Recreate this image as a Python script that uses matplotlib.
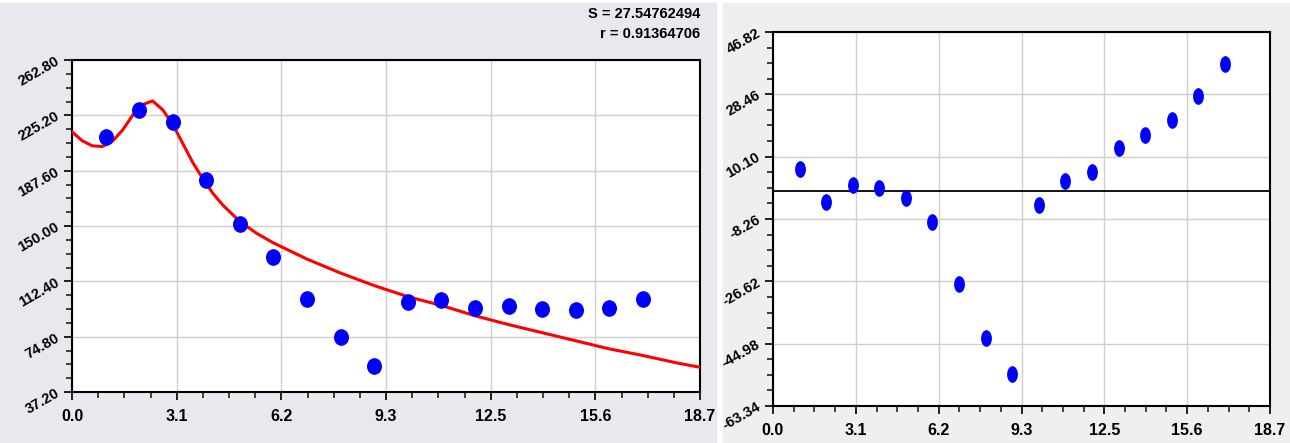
import numpy as np
import matplotlib
matplotlib.use('Agg')
import matplotlib.pyplot as plt
from matplotlib.patches import Rectangle
from matplotlib.path import Path
from matplotlib.ticker import FixedLocator

plt.rcParams['font.family'] = ['Liberation Sans', 'DejaVu Sans']

# measured points
x_obs = [1, 2, 3, 4, 5, 6, 7, 8, 9, 10, 11, 12, 13, 14, 15, 16, 17]
y_obs = [210.7, 228.8, 220.9, 181.3, 151.2, 129.1, 100.2, 74.3, 54.7,
         98.1, 99.7, 94.6, 95.8, 93.9, 92.8, 94.6, 100.4]

# fitted curve
x_fit = [0.0, 0.3, 0.6, 0.9, 1.2, 1.5, 1.8, 2.1, 2.4, 2.7, 3.0, 3.3, 3.6,
         3.9, 4.2, 4.5, 5.0, 5.5, 6.0, 7.0, 8.0, 9.0, 10.0, 11.0, 12.0,
         13.0, 14.0, 15.0, 16.0, 17.0, 18.0, 18.7]
y_fit = [214.0, 208.0, 204.5, 204.0, 207.5, 215.0, 225.0, 232.5, 235.0,
         229.0, 219.0, 206.0, 193.0, 182.0, 172.0, 164.0, 153.0, 145.0,
         138.5, 127.5, 118.0, 109.5, 102.0, 96.0, 89.0, 83.0, 77.5, 72.0,
         66.5, 62.0, 57.0, 54.0]

# residuals
residuals = [6.5, -3.2, 1.9, 1.0, -2.0, -9.1, -27.3, -43.2, -54.0,
             -4.1, 2.9, 5.7, 12.7, 16.4, 20.9, 28.0, 37.4]

stat_lines = ["S = 27.54762494", "r = 0.91364706"]

x_ticks = [i * 18.7 / 6 for i in range(7)]
x_labels = ["0.0", "3.1", "6.2", "9.3", "12.5", "15.6", "18.7"]
y1_ticks = [37.20 + 37.6 * i for i in range(7)]
y2_ticks = [-63.34 + 18.36 * i for i in range(7)]


def ellipse(ratio):
    c = Path.unit_circle()
    return Path(c.vertices * [ratio, 1.0], c.codes)


def style_axes(ax, yticks):
    ax.set_xlim(0, 18.7)
    ax.set_ylim(yticks[0], yticks[-1])
    ax.xaxis.set_major_locator(FixedLocator(x_ticks))
    ax.xaxis.set_minor_locator(FixedLocator(
        [18.7 * k / 24 for k in range(25) if k % 4]))
    ax.yaxis.set_major_locator(FixedLocator(yticks))
    step = yticks[1] - yticks[0]
    ax.yaxis.set_minor_locator(FixedLocator(
        [yticks[0] + step * k / 4 for k in range(25) if k % 4]))
    ax.set_xticklabels(x_labels, fontsize=11.5, fontweight='bold')
    ax.set_yticklabels(["%.2f" % v for v in yticks], fontsize=10.5,
                       fontweight='bold', rotation=30,
                       rotation_mode='anchor', ha='right', va='center')
    ax.tick_params(axis='both', which='major', length=6, width=1.4,
                   direction='out', color='#202020')
    ax.tick_params(axis='both', which='minor', length=4, width=1.2,
                   direction='out', color='#202020')
    ax.tick_params(axis='x', pad=6)
    ax.tick_params(axis='y', pad=4)
    for s in ax.spines.values():
        s.set_linewidth(1.5)
        s.set_color('black')
    ax.grid(True, which='major', color='#cfcfcf', linewidth=1.0)
    ax.set_axisbelow(True)
    ax.set_facecolor('white')


fig = plt.figure(figsize=(12.9, 4.43), dpi=100)
fig.patch.set_facecolor('white')
fig.add_artist(Rectangle((0, 0), 716 / 1290, 440 / 443,
                         transform=fig.transFigure, color='#e9e8ee', zorder=-5))
fig.add_artist(Rectangle((723 / 1290, 0), 567 / 1290, 440 / 443,
                         transform=fig.transFigure, color='#efefef', zorder=-5))

ax1 = fig.add_axes([72 / 1290, 1 - 392 / 443, 628 / 1290, 332 / 443])
style_axes(ax1, y1_ticks)
ax1.plot(x_fit, y_fit, color='red', linewidth=2.2, zorder=3)
ax1.plot(x_obs, y_obs, linestyle='none', marker=ellipse(0.9),
         markersize=12, color='blue', markeredgewidth=0, zorder=4)

for i, line in enumerate(stat_lines):
    fig.text(700 / 1290, 1 - (14 + 20 * i) / 443, line, ha='right',
             va='center', fontsize=10.5, fontweight='bold')

ax2 = fig.add_axes([773 / 1290, 1 - 406 / 443, 497 / 1290, 374 / 443])
style_axes(ax2, y2_ticks)
ax2.axhline(0, color='black', linewidth=1.3, zorder=2)
ax2.plot(x_obs, residuals, linestyle='none', marker=ellipse(0.65),
         markersize=12, color='blue', markeredgewidth=0, zorder=4)

fig.savefig('out.png', dpi=100)
